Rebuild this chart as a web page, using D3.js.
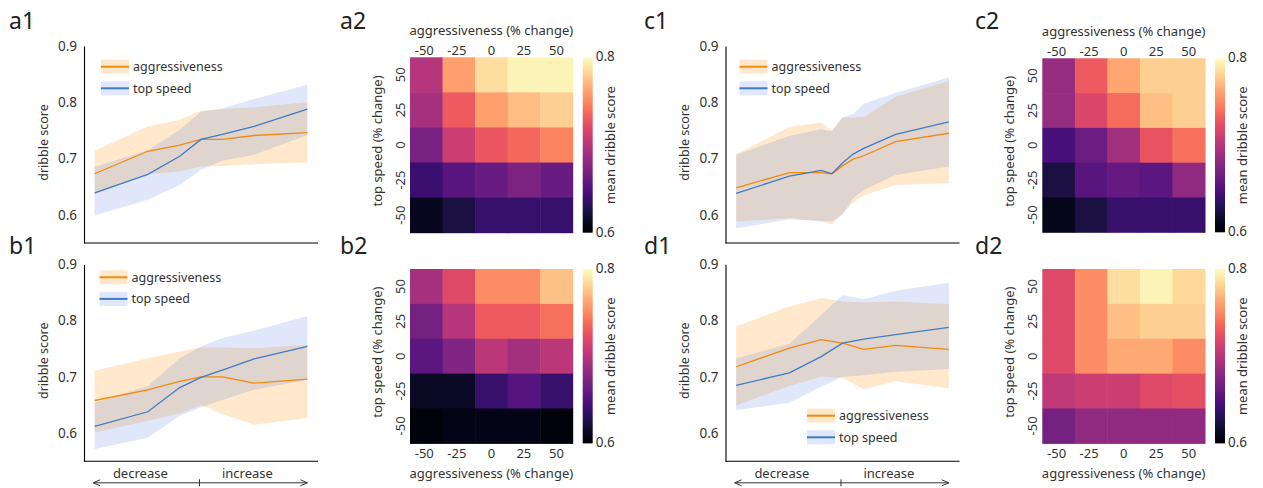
<!DOCTYPE html>
<html><head><meta charset="utf-8">
<script src="https://cdn.jsdelivr.net/npm/d3@7"></script>
<style>body{margin:0;background:#fff} svg{display:block} text{font-family:"Noto Sans",sans-serif;fill:#333}</style>
</head><body>
<svg id="c" width="1263" height="488"></svg>
<script>
// ---------- data ----------
const xSteps7 = [-50, -25, -10, 0, 10, 25, 50];
const xSteps9 = [-50, -25, -10, -5, 0, 5, 10, 25, 50];
const seriesNames = ["aggressiveness", "top speed"];
const lineTicks = [0.6, 0.7, 0.8, 0.9];

// a1
const a1AggMean = [0.673, 0.713, 0.724, 0.734, 0.734, 0.741, 0.746];
const a1AggLo   = [0.636, 0.672, 0.677, 0.686, 0.687, 0.690, 0.693];
const a1AggHi   = [0.714, 0.757, 0.769, 0.785, 0.788, 0.791, 0.800];
const a1SpdMean = [0.639, 0.672, 0.704, 0.734, 0.743, 0.757, 0.788];
const a1SpdLo   = [0.599, 0.627, 0.653, 0.680, 0.696, 0.707, 0.742];
const a1SpdHi   = [0.685, 0.715, 0.751, 0.783, 0.789, 0.806, 0.831];
// b1
const b1AggMean = [0.658, 0.677, 0.692, 0.700, 0.700, 0.689, 0.696];
const b1AggLo   = [0.601, 0.622, 0.635, 0.650, 0.634, 0.615, 0.627];
const b1AggHi   = [0.711, 0.733, 0.745, 0.752, 0.752, 0.751, 0.757];
const b1SpdMean = [0.612, 0.638, 0.681, 0.699, 0.712, 0.732, 0.754];
const b1SpdLo   = [0.572, 0.592, 0.631, 0.646, 0.659, 0.677, 0.695];
const b1SpdHi   = [0.654, 0.684, 0.733, 0.754, 0.769, 0.782, 0.808];
// c1
const c1AggMean = [0.648, 0.675, 0.675, 0.673, 0.687, 0.699, 0.705, 0.730, 0.745];
const c1AggLo   = [0.588, 0.594, 0.588, 0.583, 0.603, 0.622, 0.635, 0.653, 0.656];
const c1AggHi   = [0.708, 0.756, 0.764, 0.750, 0.773, 0.773, 0.774, 0.810, 0.838];
const c1SpdMean = [0.638, 0.669, 0.679, 0.673, 0.692, 0.708, 0.718, 0.743, 0.765];
const c1SpdLo   = [0.576, 0.592, 0.589, 0.588, 0.600, 0.630, 0.644, 0.671, 0.686];
const c1SpdHi   = [0.707, 0.740, 0.752, 0.748, 0.773, 0.779, 0.797, 0.817, 0.844];
// d1
const d1AggMean = [0.718, 0.751, 0.766, 0.760, 0.749, 0.756, 0.749];
const d1AggLo   = [0.649, 0.684, 0.700, 0.698, 0.678, 0.692, 0.680];
const d1AggHi   = [0.790, 0.825, 0.840, 0.834, 0.832, 0.834, 0.829];
const d1SpdMean = [0.685, 0.707, 0.736, 0.760, 0.767, 0.775, 0.788];
const d1SpdLo   = [0.641, 0.654, 0.683, 0.700, 0.703, 0.709, 0.714];
const d1SpdHi   = [0.733, 0.759, 0.810, 0.845, 0.838, 0.853, 0.867];

// heatmaps: rows = top speed 50 (top) ... -50 (bottom); cols = aggressiveness -50 ... 50
const heatCols = ["-50", "-25", "0", "25", "50"];
const heatRows = ["50", "25", "0", "-25", "-50"];
const cbarTicks = [0.6, 0.8];
const a2Values = [
  [0.700, 0.760, 0.786, 0.796, 0.796],
  [0.692, 0.730, 0.760, 0.772, 0.780],
  [0.670, 0.710, 0.728, 0.736, 0.748],
  [0.640, 0.654, 0.662, 0.672, 0.662],
  [0.612, 0.624, 0.638, 0.638, 0.638]
];
const b2Values = [
  [0.692, 0.720, 0.752, 0.752, 0.774],
  [0.668, 0.700, 0.730, 0.730, 0.740],
  [0.656, 0.674, 0.702, 0.690, 0.702],
  [0.614, 0.614, 0.638, 0.652, 0.638],
  [0.604, 0.608, 0.608, 0.608, 0.604]
];
const c2Values = [
  [0.684, 0.730, 0.762, 0.780, 0.780],
  [0.684, 0.718, 0.738, 0.773, 0.780],
  [0.646, 0.664, 0.690, 0.726, 0.740],
  [0.624, 0.654, 0.660, 0.656, 0.682],
  [0.610, 0.624, 0.638, 0.638, 0.638]
];
const d2Values = [
  [0.720, 0.752, 0.786, 0.796, 0.784],
  [0.720, 0.752, 0.773, 0.780, 0.780],
  [0.720, 0.752, 0.764, 0.764, 0.752],
  [0.704, 0.710, 0.710, 0.720, 0.724],
  [0.668, 0.682, 0.682, 0.682, 0.682]
];

// ---------- drawing ----------
const svg = d3.select("#c");
const ORANGE = "#f28a0c", BLUE = "#3f7cc4";
const ORANGE_FILL = "#ff8c00", BLUE_FILL = "#4a6fe0";
const color = d3.scaleSequential(d3.interpolateMagma).domain([0.6, 0.8]);

function panelLabel(t, x, y) {
  svg.append("text").attr("x", x).attr("y", y).attr("font-size", 23).style("fill", "#222").text(t);
}

function linePanel(o) {
  const g = svg.append("g");
  const W = 234, H = 197;
  const x = d3.scaleLinear().domain([-55, 55]).range([o.left, o.left + W]);
  const y = d3.scaleLinear().domain([0.55, 0.9]).range([o.top + H, o.top]);
  const series = [
    {m: o.aggMean, lo: o.aggLo, hi: o.aggHi, c: ORANGE, f: ORANGE_FILL, op: 0.2},
    {m: o.spdMean, lo: o.spdLo, hi: o.spdHi, c: BLUE, f: BLUE_FILL, op: 0.17}
  ];
  const area = d3.area().x((d) => x(d.x)).y0((d) => y(d.lo)).y1((d) => y(d.hi));
  const line = d3.line().x((d) => x(d.x)).y((d) => y(d.m));
  series.forEach((s) => {
    const data = o.xs.map((xv, i) => ({x: xv, lo: s.lo[i], hi: s.hi[i], m: s.m[i]}));
    g.append("path").datum(data).attr("d", area).attr("fill", s.f).attr("fill-opacity", s.op);
  });
  series.forEach((s) => {
    const data = o.xs.map((xv, i) => ({x: xv, m: s.m[i]}));
    g.append("path").datum(data).attr("d", line).attr("fill", "none").attr("stroke", s.c).attr("stroke-width", 1.3);
  });
  const ax = g.append("g").attr("transform", `translate(${o.left},0)`)
    .call(d3.axisLeft(y).tickValues(lineTicks).tickSize(0).tickPadding(7).tickFormat(d3.format(".1f")));
  ax.select(".domain").attr("stroke", "#000").attr("stroke-width", 1.1);
  ax.selectAll("text").attr("font-size", 13.5).style("font-family", '"Noto Sans",sans-serif').style("fill", "#333");
  g.append("line").attr("x1", o.left).attr("x2", o.left + W).attr("y1", o.top + H).attr("y2", o.top + H)
    .attr("stroke", "#000").attr("stroke-width", 1.1);
  g.append("text").attr("transform", `translate(${o.left - 41},${o.top + H / 2 - 2}) rotate(-90)`)
    .attr("text-anchor", "middle").attr("dominant-baseline", "central").attr("font-size", 12.5).text("dribble score");
  // legend
  series.forEach((s, i) => {
    const ly = o.legY + i * 21.6;
    g.append("rect").attr("x", o.legX).attr("y", ly - 7).attr("width", 28).attr("height", 14)
      .attr("fill", s.f).attr("fill-opacity", s.op);
    g.append("line").attr("x1", o.legX).attr("x2", o.legX + 28).attr("y1", ly).attr("y2", ly)
      .attr("stroke", s.c).attr("stroke-width", 2);
    g.append("text").attr("x", o.legX + 32).attr("y", ly).attr("dominant-baseline", "central")
      .attr("font-size", 12.5).text(seriesNames[i]);
  });
  if (o.arrow) {
    const ay = o.top + H + 21.5;
    const x0 = x(-50) - 1.5, x1 = x(50), xm = x(0) - 1.5;
    g.append("line").attr("x1", x0).attr("x2", x1).attr("y1", ay).attr("y2", ay)
      .attr("stroke", "#333").attr("stroke-width", 1);
    [[x0, 1], [x1, -1]].forEach(([px, d]) => {
      g.append("path").attr("d", `M${px + d * 7},${ay - 3} L${px},${ay} L${px + d * 7},${ay + 3}`)
        .attr("fill", "none").attr("stroke", "#333").attr("stroke-width", 1);
    });
    g.append("line").attr("x1", xm).attr("x2", xm).attr("y1", ay - 3.5).attr("y2", ay + 3.5)
      .attr("stroke", "#333").attr("stroke-width", 1);
    g.append("text").attr("x", (x0 + xm) / 2 - 6).attr("y", ay - 10).attr("text-anchor", "middle")
      .attr("dominant-baseline", "central").attr("font-size", 13).text("decrease");
    g.append("text").attr("x", (xm + x1) / 2 - 6).attr("y", ay - 10).attr("text-anchor", "middle")
      .attr("dominant-baseline", "central").attr("font-size", 13).text("increase");
  }
}

let gradId = 0;
function heatPanel(o) {
  const g = svg.append("g");
  const W = 162.7, H = o.h;
  const x = d3.scaleBand().domain(heatCols).range([o.left, o.left + W]);
  const y = d3.scaleBand().domain(heatRows).range([o.top, o.top + H]);
  o.values.forEach((row, ri) => row.forEach((v, ci) => {
    g.append("rect").attr("x", x(heatCols[ci])).attr("y", y(heatRows[ri]))
      .attr("width", x.bandwidth() + 0.5).attr("height", y.bandwidth() + 0.5).attr("fill", color(v));
  }));
  // x tick labels
  const tickY = o.topAxis ? o.top - 7.5 : o.top + H + 10;
  heatCols.forEach((c) => {
    g.append("text").attr("x", x(c) + x.bandwidth() / 2 - (c.startsWith("-") ? 2 : 0)).attr("y", tickY)
      .attr("text-anchor", "middle").attr("dominant-baseline", "central").attr("font-size", 13).text(c);
  });
  g.append("text").attr("x", o.left + W / 2).attr("y", o.topAxis ? o.top - 27.5 : o.top + H + 30)
    .attr("text-anchor", "middle").attr("dominant-baseline", "central").attr("font-size", 13)
    .text("aggressiveness (% change)");
  // y tick labels rotated
  heatRows.forEach((r) => {
    g.append("text").attr("transform", `translate(${o.left - 10},${y(r) + y.bandwidth() / 2}) rotate(-90)`)
      .attr("text-anchor", "middle").attr("dominant-baseline", "central").attr("font-size", 13).text(r);
  });
  g.append("text").attr("transform", `translate(${o.left - 33},${o.top + H / 2 - 4}) rotate(-90)`)
    .attr("text-anchor", "middle").attr("dominant-baseline", "central").attr("font-size", 13)
    .text("top speed (% change)");
  // colorbar
  const id = "cb" + (gradId++);
  const grad = svg.append("defs").append("linearGradient").attr("id", id)
    .attr("x1", 0).attr("y1", 1).attr("x2", 0).attr("y2", 0);
  d3.range(0, 1.0001, 0.05).forEach((t) => grad.append("stop").attr("offset", t).attr("stop-color", d3.interpolateMagma(t)));
  const cx = o.left + W + 10;
  g.append("rect").attr("x", cx).attr("y", o.top).attr("width", 10).attr("height", H).attr("fill", `url(#${id})`);
  const cy = d3.scaleLinear().domain([0.6, 0.8]).range([o.top + H, o.top]);
  cbarTicks.forEach((t) => {
    g.append("text").attr("x", cx + 13).attr("y", cy(t) - 1).attr("dominant-baseline", "central")
      .attr("font-size", 13.5).text(t.toFixed(1));
  });
  g.append("text").attr("transform", `translate(${cx + 27},${o.top + H / 2}) rotate(-90)`)
    .attr("text-anchor", "middle").attr("dominant-baseline", "central").attr("font-size", 13)
    .text("mean dribble score");
}

linePanel({left: 84, top: 46, xs: xSteps7, aggMean: a1AggMean, aggLo: a1AggLo, aggHi: a1AggHi,
  spdMean: a1SpdMean, spdLo: a1SpdLo, spdHi: a1SpdHi, legX: 101, legY: 66.7});
linePanel({left: 84, top: 264.3, xs: xSteps7, aggMean: b1AggMean, aggLo: b1AggLo, aggHi: b1AggHi,
  spdMean: b1SpdMean, spdLo: b1SpdLo, spdHi: b1SpdHi, legX: 99.5, legY: 277.3, arrow: true});
linePanel({left: 725.5, top: 46, xs: xSteps9, aggMean: c1AggMean, aggLo: c1AggLo, aggHi: c1AggHi,
  spdMean: c1SpdMean, spdLo: c1SpdLo, spdHi: c1SpdHi, legX: 739.5, legY: 66.7});
linePanel({left: 725.5, top: 264.3, xs: xSteps7, aggMean: d1AggMean, aggLo: d1AggLo, aggHi: d1AggHi,
  spdMean: d1SpdMean, spdLo: d1SpdLo, spdHi: d1SpdHi, legX: 807, legY: 415.7, arrow: true});

heatPanel({left: 410, top: 57.3, h: 175.4, values: a2Values, topAxis: true});
heatPanel({left: 410, top: 269, h: 174.4, values: b2Values, topAxis: false});
heatPanel({left: 1042.3, top: 58.3, h: 174, values: c2Values, topAxis: true});
heatPanel({left: 1042.3, top: 269, h: 174.4, values: d2Values, topAxis: false});

panelLabel("a1", 9, 29);
panelLabel("a2", 340, 29);
panelLabel("b1", 9, 254);
panelLabel("b2", 340, 254);
panelLabel("c1", 644, 29);
panelLabel("c2", 975, 29);
panelLabel("d1", 644, 254);
panelLabel("d2", 975, 254);
</script>
</body></html>
